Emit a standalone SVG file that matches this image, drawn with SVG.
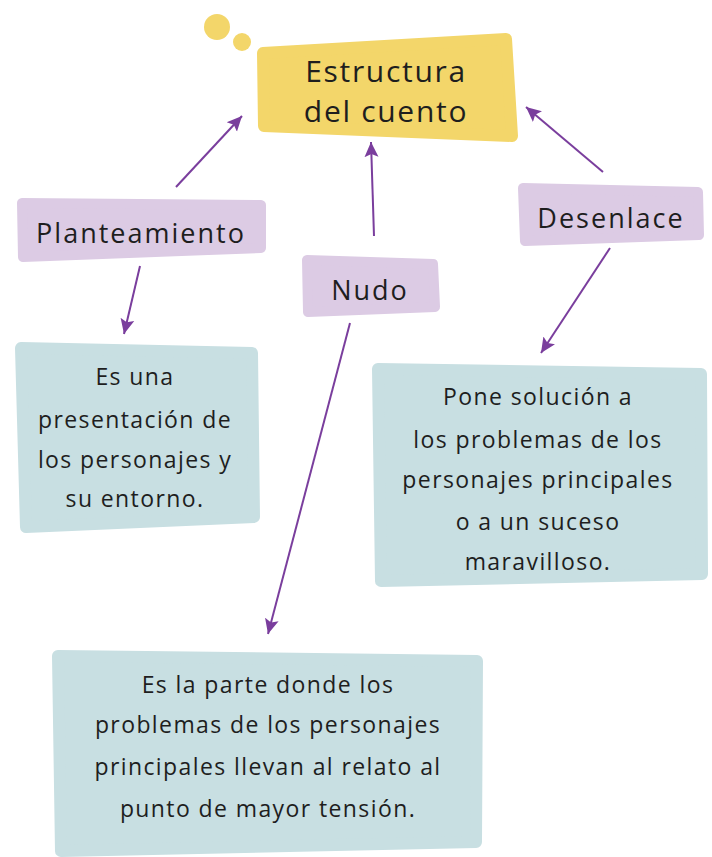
<svg xmlns="http://www.w3.org/2000/svg" width="712" height="857" viewBox="0 0 712 857">
<defs>
<style>
.yellow{fill:#F3D66A;stroke:#F3D66A;stroke-width:12;stroke-linejoin:round}
.lav{fill:#DCCBE4;stroke:#DCCBE4;stroke-width:10;stroke-linejoin:round}
.teal{fill:#C8DFE2;stroke:#C8DFE2;stroke-width:12;stroke-linejoin:round}
text{font-family:"Open Sans","Noto Sans",sans-serif;fill:#1E1E1E;text-anchor:middle}
.title{font-size:30px;letter-spacing:1.7px}
.label{font-size:27px;letter-spacing:2px}
.body{font-size:23px;letter-spacing:1.4px}
.conn{stroke:#7A3E9D;stroke-width:2;fill:none;marker-end:url(#ah)}
</style>
<marker id="ah" markerUnits="userSpaceOnUse" markerWidth="18" markerHeight="16" refX="15" refY="8" orient="auto">
<path d="M0,1 L15,8 L0,15 L3,8 z" fill="#7A3E9D"/>
</marker>
</defs>
<g id="title">
<circle cx="217" cy="27" r="13" fill="#F3D66A"/>
<circle cx="242" cy="42" r="9" fill="#F3D66A"/>
<polygon class="yellow" points="263,53 506,39 512,136 264,126"/>
<text class="title" x="386" y="82">Estructura</text>
<text class="title" x="386" y="122">del cuento</text>
</g>
<g id="planteamiento">
<polygon class="lav" points="22,203 261,205 261,248 23,257"/>
<text class="label" x="141" y="243">Planteamiento</text>
</g>
<g id="nudo">
<polygon class="lav" points="307,260 433,264 435,307 308,312"/>
<text class="label" x="370" y="300">Nudo</text>
</g>
<g id="desenlace">
<polygon class="lav" points="523,188 698,192 699,235 525,241"/>
<text class="label" x="611" y="228">Desenlace</text>
</g>
<g id="planteamiento-desc">
<polygon class="teal" points="21,348 252,353 254,517 26,527"/>
<text class="body" x="135" y="385">Es una</text>
<text class="body" x="135" y="428">presentación de</text>
<text class="body" x="135" y="468">los personajes y</text>
<text class="body" x="135" y="507">su entorno.</text>
</g>
<g id="desenlace-desc">
<polygon class="teal" points="378,369 701,374 702,574 381,581"/>
<text class="body" x="538" y="405">Pone solución a</text>
<text class="body" x="538" y="448">los problemas de los</text>
<text class="body" x="538" y="488">personajes principales</text>
<text class="body" x="538" y="530">o a un suceso</text>
<text class="body" x="538" y="570">maravilloso.</text>
</g>
<g id="nudo-desc">
<polygon class="teal" points="58,656 477,661 476,842 61,851"/>
<text class="body" x="268" y="693">Es la parte donde los</text>
<text class="body" x="268" y="733">problemas de los personajes</text>
<text class="body" x="268" y="775">principales llevan al relato al</text>
<text class="body" x="268" y="817">punto de mayor tensión.</text>
</g>
<g id="connectors">
<line class="conn" x1="176" y1="187" x2="242" y2="116"/>
<line class="conn" x1="374" y1="236" x2="371" y2="142"/>
<line class="conn" x1="603" y1="172" x2="526" y2="107"/>
<line class="conn" x1="140" y1="266" x2="124" y2="334"/>
<line class="conn" x1="350" y1="323" x2="268" y2="634"/>
<line class="conn" x1="610" y1="248" x2="541" y2="353"/>
</g>
</svg>
